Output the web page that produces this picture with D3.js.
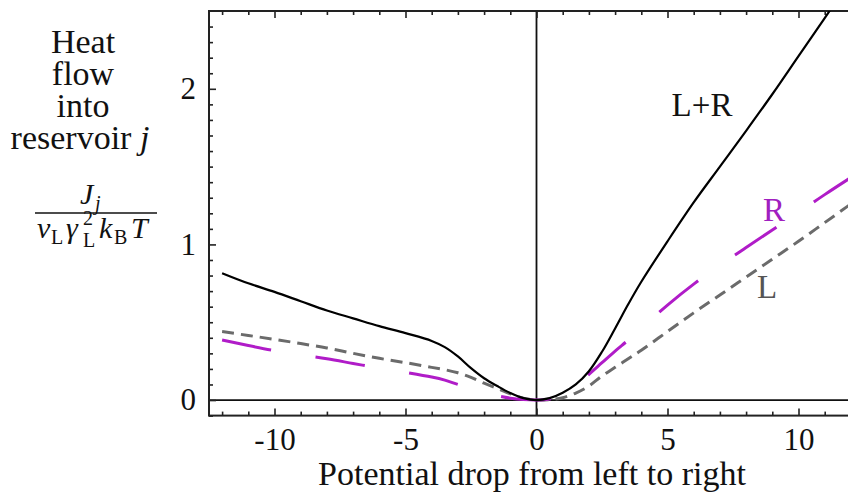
<!DOCTYPE html>
<meta charset="utf-8" />
<style>
    body { margin: 0; background: #fff; }
    text { font-family: "Liberation Serif", "DejaVu Serif", serif; fill: #111; }
    .frame { fill: none; stroke: #222; stroke-width: 2; }
    .axis path { display: none; }
    .axis line { stroke: #222; stroke-width: 1.6; }
    .axis text { font-size: 31px; font-family: "Liberation Serif", serif; fill: #111; }
    .zero { stroke: #111; stroke-width: 1.8; }
</style>

<svg width="848" height="494"></svg>

<script src="https://d3js.org/d3.v7.min.js"></script>
<script>
    // values
    const potential = [-12, -11, -10, -9, -8, -7, -6, -5, -4, -3.5, -3, -2.5, -2, -1.5, -1, -0.5, 0,
        0.5, 1, 1.5, 2, 2.5, 3, 3.5, 4, 5, 6, 7, 8, 9, 10, 11, 12];
    const heatLR = [0.815, 0.75, 0.695, 0.635, 0.575, 0.525, 0.475, 0.43, 0.38, 0.34, 0.28, 0.205, 0.14, 0.09, 0.045, 0.012, 0,
        0.012, 0.047, 0.1, 0.185, 0.31, 0.46, 0.615, 0.76, 1.02, 1.27, 1.5, 1.73, 1.965, 2.21, 2.455, 2.7];
    const heatR = [0.386, 0.35, 0.317, 0.29, 0.265, 0.235, 0.205, 0.178, 0.148, 0.128, 0.1, 0.075, 0.05, 0.028, 0.012, 0.003, 0,
        0.006, 0.03, 0.085, 0.165, 0.24, 0.315, 0.385, 0.46, 0.61, 0.745, 0.865, 0.98, 1.093, 1.205, 1.32, 1.43];
    const heatL = [0.44, 0.415, 0.39, 0.363, 0.335, 0.3, 0.268, 0.24, 0.21, 0.195, 0.175, 0.145, 0.108, 0.075, 0.04, 0.012, 0,
        0.002, 0.015, 0.045, 0.09, 0.155, 0.21, 0.265, 0.32, 0.44, 0.56, 0.675, 0.79, 0.905, 1.02, 1.14, 1.26];

    const xMajor = [-10, -5, 0, 5, 10];
    const yMajor = [0, 1, 2];

    const svg = d3.select('svg');

    const x = d3.scaleLinear().domain([-12.5, 12.5]).range([209, 864]);
    const y = d3.scaleLinear().domain([-0.1, 2.5]).range([415.6, 11]);

    const xMinor = d3.range(-12, 13, 1).filter(d => d % 5 !== 0);
    const yMinor = d3.range(-1, 25, 1).map(d => d / 10).filter(d => Math.abs(d % 1) > 0.01);

    // axes lines at zero
    svg.append('line').attr('class', 'zero')
        .attr('x1', x(-12.5)).attr('x2', x(12.5)).attr('y1', y(0)).attr('y2', y(0));
    svg.append('line').attr('class', 'zero')
        .attr('x1', x(0)).attr('x2', x(0)).attr('y1', y(2.5)).attr('y2', y(-0.1));

    // frame ticks (inward)
    const fmt = d => String(d);
    const noText = g => g.selectAll('text').remove();
    svg.append('g').attr('class', 'axis').attr('transform', `translate(0,${y(-0.1)})`)
        .call(d3.axisBottom(x).tickValues(xMajor).tickSize(-7).tickPadding(12).tickFormat(fmt));
    svg.append('g').attr('class', 'axis').attr('transform', `translate(0,${y(-0.1)})`)
        .call(d3.axisBottom(x).tickValues(xMinor).tickSize(-4)).call(noText);
    svg.append('g').attr('class', 'axis').attr('transform', `translate(0,${y(2.5)})`)
        .call(d3.axisTop(x).tickValues(xMajor).tickSize(-7)).call(noText);
    svg.append('g').attr('class', 'axis').attr('transform', `translate(0,${y(2.5)})`)
        .call(d3.axisTop(x).tickValues(xMinor).tickSize(-4)).call(noText);
    svg.append('g').attr('class', 'axis').attr('transform', `translate(${x(-12.5)},0)`)
        .call(d3.axisLeft(y).tickValues(yMajor).tickSize(-7).tickPadding(13).tickFormat(fmt));
    svg.append('g').attr('class', 'axis').attr('transform', `translate(${x(-12.5)},0)`)
        .call(d3.axisLeft(y).tickValues(yMinor).tickSize(-4)).call(noText);

    svg.append('rect').attr('class', 'frame')
        .attr('x', x(-12.5)).attr('y', y(2.5))
        .attr('width', x(12.5) - x(-12.5)).attr('height', y(-0.1) - y(2.5));

    // curves
    svg.append('clipPath').attr('id', 'plot').append('rect')
        .attr('x', x(-12.5)).attr('y', y(2.5))
        .attr('width', x(12.5) - x(-12.5)).attr('height', y(-0.1) - y(2.5));

    const line = d3.line()
        .x(d => x(d[0]))
        .y(d => y(d[1]))
        .curve(d3.curveCatmullRom.alpha(0.5));

    const curves = [
        { values: heatL, color: '#6b6b6b', width: 3, dash: '12,7' },
        { values: heatR, color: '#b01cc8', width: 3, dash: '50,45' },
        { values: heatLR, color: '#000', width: 2.2, dash: null },
    ];

    const g = svg.append('g').attr('clip-path', 'url(#plot)');
    curves.forEach(c => {
        g.append('path')
            .datum(potential.map((p, i) => [p, c.values[i]]))
            .attr('d', line)
            .attr('fill', 'none')
            .attr('stroke', c.color)
            .attr('stroke-width', c.width)
            .attr('stroke-dasharray', c.dash);
    });

    // curve labels
    svg.append('text').attr('x', 702).attr('y', 116).attr('text-anchor', 'middle')
        .style('font-size', '33px').text('L+R');
    svg.append('text').attr('x', 774).attr('y', 221).attr('text-anchor', 'middle')
        .style('font-size', '33px').style('fill', '#a020c0').text('R');
    svg.append('text').attr('x', 767).attr('y', 298).attr('text-anchor', 'middle')
        .style('font-size', '33px').style('fill', '#555').text('L');

    // axis label
    svg.append('text').attr('x', 532).attr('y', 485).attr('text-anchor', 'middle')
        .style('font-size', '34px').text('Potential drop from left to right');

    // y label block: one text, one tspan per line
    const ylab = svg.append('g').attr('transform', 'translate(83,0)').style('font-size', '34px');
    const block = ylab.append('text').attr('text-anchor', 'middle');
    ['Heat', 'flow', 'into'].forEach((t, i) => {
        block.append('tspan').attr('x', 0).attr('y', 53 + i * 32).text(t);
    });
    block.append('tspan').attr('x', -3).attr('y', 149).text('reservoir ');
    block.append('tspan').style('font-style', 'italic').text('j');

    // fraction J_j / (nu_L gamma_L^2 k_B T), glyphs placed one by one
    const num = ylab.append('text');
    const den = ylab.append('text');
    const glyph = (el, t, gx, gy, size, italic) => el.append('tspan')
        .attr('x', gx).attr('y', gy)
        .style('font-size', size + 'px')
        .style('font-style', italic ? 'italic' : 'normal')
        .text(t);

    glyph(num, 'J', -3, 204, 30, true);
    glyph(num, 'j', 12, 210, 20, true);

    ylab.append('line').attr('x1', -48).attr('x2', 74).attr('y1', 213).attr('y2', 213)
        .attr('stroke', '#111').attr('stroke-width', 1.5);

    glyph(den, 'ν', -46, 238, 30, true);
    glyph(den, 'L', -32, 244, 20, false);
    glyph(den, 'γ', -17, 238, 30, true);
    glyph(den, '2', 0, 225, 20, false);
    glyph(den, 'L', 0, 247, 20, false);
    glyph(den, 'k', 16, 238, 30, true);
    glyph(den, 'B', 31, 244, 20, false);
    glyph(den, 'T', 48, 238, 30, true);
</script>
